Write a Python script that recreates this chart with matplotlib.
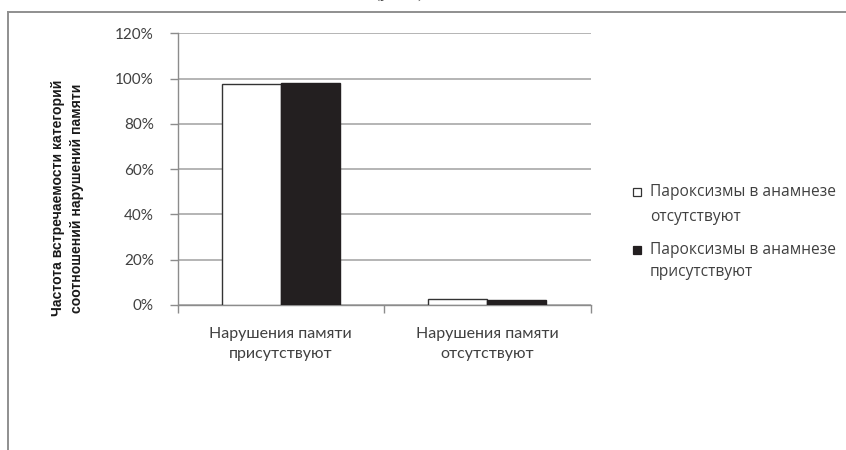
import matplotlib
matplotlib.use("Agg")
import matplotlib.pyplot as plt
from matplotlib.lines import Line2D
from matplotlib.patches import Rectangle
import numpy as np

categories = ["Нарушения памяти\nприсутствуют", "Нарушения памяти\nотсутствуют"]
series_names = ["Пароксизмы в анамнезе\nотсутствуют", "Пароксизмы в анамнезе\nприсутствуют"]
absent_paroxysms = [97.4, 2.6]
present_paroxysms = [97.9, 2.1]
y_ticks = [0, 20, 40, 60, 80, 100, 120]
y_tick_labels = ["0%", "20%", "40%", "60%", "80%", "100%", "120%"]
y_label = "Частота встречаемости категорий\nсоотношений нарушений памяти"

W, H = 846, 450
fig = plt.figure(figsize=(W / 100, H / 100), dpi=100)

text_gray = "#404040"
grid_gray = "#b4b4b4"
axis_gray = "#8c8c8c"
bar_black = "#231f20"

# outer chart frame (left and top edges)
fig.add_artist(Line2D([8 / W, 8 / W], [0, 1 - 12 / H], transform=fig.transFigure,
                      color="#8f8f8f", lw=1.4))
fig.add_artist(Line2D([8 / W, 1], [1 - 12 / H, 1 - 12 / H], transform=fig.transFigure,
                      color="#8f8f8f", lw=1.4))

# caption line, mostly above the visible area
fig.text(399 / W, 1.0 + 2 / H, "(рис. 3)", ha="center", va="baseline",
         fontsize=11, family="Liberation Serif", color="#333333")

ax = fig.add_axes([177.5 / W, 1 - 305 / H, (590.5 - 177.5) / W, (305 - 33.3) / H])

x = np.arange(len(categories))
bw = 2 / 7
ax.bar(x - bw / 2, absent_paroxysms, width=bw, color="white", edgecolor="#333333",
       linewidth=1.0, zorder=3)
ax.bar(x + bw / 2, present_paroxysms, width=bw, color=bar_black, edgecolor=bar_black,
       linewidth=1.0, zorder=3)

ax.set_xlim(-0.5, len(categories) - 0.5)
ax.set_ylim(0, 120)
ax.set_yticks(y_ticks)
ax.set_yticklabels(y_tick_labels)
ax.yaxis.grid(True, color=grid_gray, lw=1.4, zorder=0)
ax.set_axisbelow(True)

for side in ["top", "right"]:
    ax.spines[side].set_visible(False)
ax.spines["left"].set_color(axis_gray)
ax.spines["bottom"].set_color(axis_gray)
ax.spines["left"].set_linewidth(1.0)
ax.spines["bottom"].set_linewidth(1.0)

ax.tick_params(axis="y", length=6, width=1.0, color=axis_gray, pad=11,
               labelsize=11, labelcolor=text_gray)
for lbl in ax.get_yticklabels():
    lbl.set_family("Lato")

# category ticks sit between the groups
ax.set_xticks(np.arange(-0.5, len(categories), 1.0))
ax.set_xticklabels([])
ax.tick_params(axis="x", length=6, width=1.0, color=axis_gray)
ax.set_xticks(x, minor=True)
ax.set_xticklabels(categories, minor=True)
ax.tick_params(axis="x", which="minor", length=0, pad=16, labelsize=11.5,
               labelcolor=text_gray)
for lbl in ax.get_xticklabels(minor=True):
    lbl.set_family("Lato")
    lbl.set_linespacing(1.55)

fig.text(67.5 / W, 1 - 198 / H, y_label, rotation=90, ha="center", va="center",
         fontsize=10.1, fontweight="bold", family="Liberation Sans", color="#1a1a1a",
         linespacing=1.5)

# legend
entries = [("white", "#333333", 191.7, 216.7), (bar_black, bar_black, 250.0, 271.7)]
for (fc, ec, y1, y2), name in zip(entries, series_names):
    fig.add_artist(Rectangle((633 / W, 1 - (y1 + 4) / H), 8 / W, 8 / H,
                             transform=fig.transFigure, facecolor=fc, edgecolor=ec,
                             lw=0.9))
    l1, l2 = name.split("\n")
    fig.text(650 / W, 1 - y1 / H, l1, ha="left", va="center", fontsize=11.2,
             family="Open Sans", color=text_gray)
    fig.text(650 / W, 1 - y2 / H, l2, ha="left", va="center", fontsize=11.2,
             family="Open Sans", color=text_gray)

fig.savefig("out.png", dpi=100)
